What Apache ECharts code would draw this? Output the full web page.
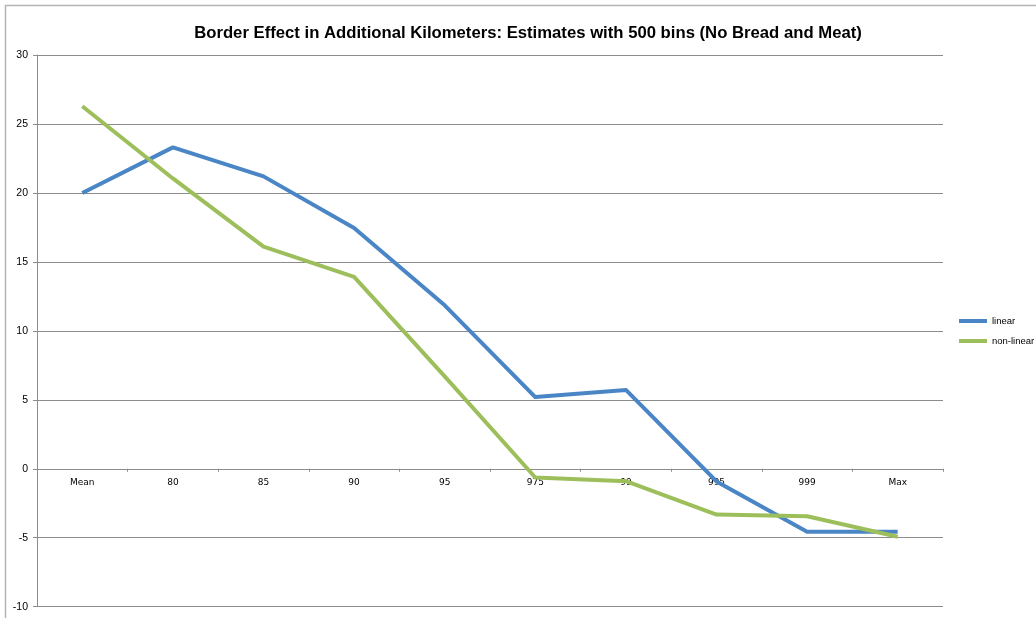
<!DOCTYPE html>
<html>
<head>
<meta charset="utf-8">
<style>
  html, body { margin: 0; padding: 0; background: #ffffff; }
  #chart { width: 1036px; height: 618px; }
</style>
<script src="https://cdn.jsdelivr.net/npm/echarts@6/dist/echarts.min.js"></script>
</head>
<body>
<div id="chart"></div>
<script>
// Percentile categories along the horizontal axis
const categories = ['Mean', '80', '85', '90', '95', '975', '99', '995', '999', 'Max'];

// Border effect estimates (additional kilometers)
const linearValues    = [20.0, 23.3, 21.2, 17.45, 11.85, 5.2, 5.72, -0.92, -4.57, -4.57];
const nonLinearValues = [26.28, 21.05, 16.1, 13.92, 6.7, -0.63, -0.9, -3.32, -3.44, -4.93];

// Value axis range and step
const yMin = -10, yMax = 30, yStep = 5;

const GRID = { left: 37, right: 93, top: 55, bottom: 11.3 };

const chart = echarts.init(document.getElementById('chart'), null, { renderer: 'canvas' });

chart.setOption({
  backgroundColor: '#ffffff',
  animation: false,
  title: {
    text: 'Border Effect in Additional Kilometers: Estimates with 500 bins (No Bread and Meat)',
    left: 523,
    textAlign: 'center',
    top: 20,
    textStyle: {
      fontFamily: 'Liberation Sans',
      fontWeight: 'bold',
      fontSize: 16.7,
      color: '#000000'
    }
  },
  legend: {
    orient: 'vertical',
    left: 959,
    top: 316,
    padding: 0,
    itemWidth: 28,
    itemHeight: 4,
    itemGap: 10,
    icon: 'rect',
    textStyle: { fontFamily: 'Liberation Sans', fontSize: 9.5, color: '#000000' },
    data: ['linear', 'non-linear']
  },
  grid: Object.assign({ containLabel: false, outerBoundsMode: 'none' }, GRID),
  xAxis: {
    type: 'category',
    data: categories,
    boundaryGap: true,
    axisLine: { onZero: false, lineStyle: { color: '#8c8c8c', width: 1 } },
    axisTick: { show: true, alignWithLabel: false, length: 3, inside: false, lineStyle: { color: '#8c8c8c' } },
    axisLabel: { fontFamily: 'DejaVu Sans', fontSize: 9, color: '#000000', margin: 9 },
    splitLine: { show: false }
  },
  yAxis: {
    type: 'value',
    min: yMin,
    max: yMax,
    interval: yStep,
    axisLine: { show: true, lineStyle: { color: '#8c8c8c', width: 1 } },
    axisTick: { show: true, length: 4, lineStyle: { color: '#8c8c8c' } },
    axisLabel: { fontFamily: 'Liberation Sans', fontSize: 10.5, color: '#000000', margin: 9 },
    splitLine: { show: true, lineStyle: { color: '#8c8c8c', width: 1 } }
  },
  graphic: [
    {
      type: 'polyline',
      silent: true,
      shape: { points: [[5.5, 618], [5.5, 5.5], [1036, 5.5]] },
      style: { stroke: '#b4b4b4', lineWidth: 1.5, fill: null }
    }
  ],
  series: [
    {
      name: 'linear',
      type: 'line',
      data: linearValues,
      symbol: 'none',
      color: '#4a86c6',
      lineStyle: { width: 4, color: '#4a86c6', join: 'round' }
    },
    {
      name: 'non-linear',
      type: 'line',
      data: nonLinearValues,
      symbol: 'none',
      color: '#9dbf5b',
      lineStyle: { width: 4, color: '#9dbf5b', join: 'round' }
    }
  ]
});

// Lift the category axis (line, ticks and labels) up to the zero value
const zeroY = chart.convertToPixel({ yAxisIndex: 0 }, 0);
const bottomY = chart.convertToPixel({ yAxisIndex: 0 }, yMin);
chart.setOption({ xAxis: { offset: -(bottomY - zeroY) } });
</script>
</body>
</html>
